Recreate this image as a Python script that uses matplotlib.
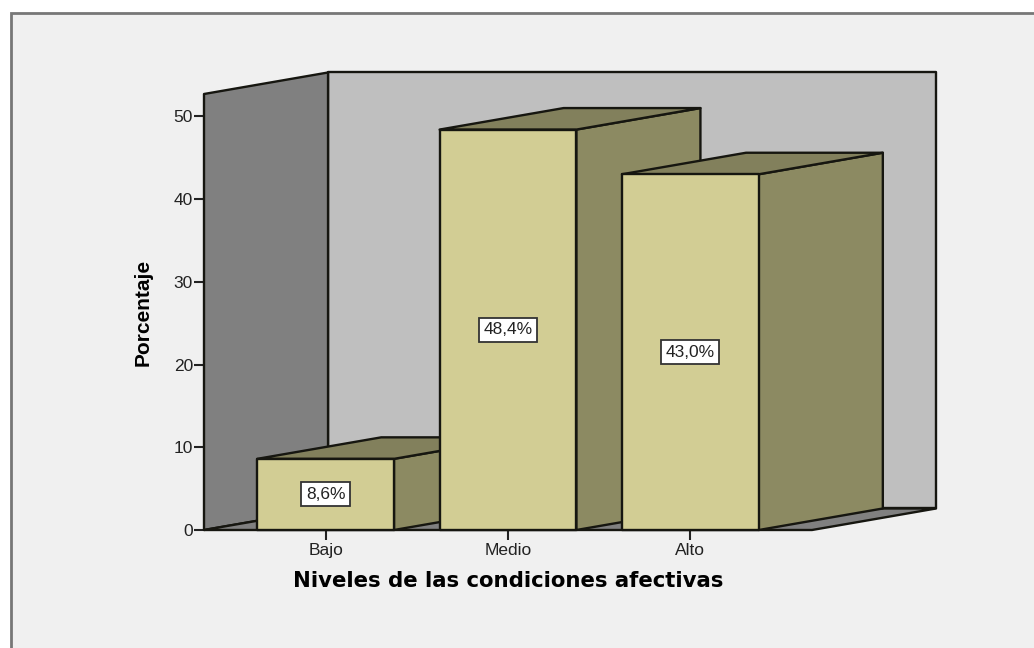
#!/usr/bin/env python3
"""3D-look bar chart of the levels of affective conditions."""

import matplotlib
matplotlib.use("Agg")
import matplotlib.pyplot as plt
from matplotlib.patches import Polygon, Rectangle

categories = ["Bajo", "Medio", "Alto"]
percentages = [8.6, 48.4, 43.0]
value_labels = ["8,6%", "48,4%", "43,0%"]
y_ticks = [0, 10, 20, 30, 40, 50]

X_MIN, X_MAX = -2 / 3, 8 / 3
Y_MAX = 52.7
BAR_WIDTH = 0.75
DEPTH_X = 0.68
DEPTH_Y = 2.6

EDGE = "#161610"
FRONT = "#d2cd94"
SIDE = "#8c8a62"
TOP = "#82805c"
BACK_WALL = "#bfbfbf"
SIDE_WALL = "#808080"


def add_poly(ax, points, color, zorder):
    ax.add_patch(Polygon(points, closed=True, facecolor=color, edgecolor=EDGE,
                         linewidth=1.7, joinstyle="round", clip_on=False, zorder=zorder))


def draw_bar(ax, center, value, label, zorder):
    left = center - BAR_WIDTH / 2
    right = center + BAR_WIDTH / 2
    add_poly(ax, [(right, 0), (right + DEPTH_X, DEPTH_Y),
                  (right + DEPTH_X, value + DEPTH_Y), (right, value)], SIDE, zorder)
    add_poly(ax, [(left, value), (left + DEPTH_X, value + DEPTH_Y),
                  (right + DEPTH_X, value + DEPTH_Y), (right, value)], TOP, zorder)
    add_poly(ax, [(left, 0), (left, value), (right, value), (right, 0)], FRONT, zorder)
    ax.text(center, value / 2, label, ha="center", va="center", fontsize=12.5,
            family="Liberation Sans", color="#222222", zorder=zorder + 0.5,
            bbox=dict(boxstyle="square,pad=0.26", facecolor="white",
                      edgecolor="#333333", linewidth=1.3))


def main() -> None:
    fig = plt.figure(figsize=(10.34, 6.48), dpi=100, facecolor="white")

    # grey panel behind the chart, its border only shows on the top and left
    fig.add_artist(Rectangle((11 / 1034, -0.01), 1.02, (648 - 13) / 648 + 0.01,
                             transform=fig.transFigure, facecolor="#f0f0f0",
                             edgecolor="#777777", linewidth=2, zorder=-1))

    ax = fig.add_axes([204 / 1034, (648 - 530) / 648, 608 / 1034, 436 / 648])
    ax.patch.set_visible(False)
    ax.set_xlim(X_MIN, X_MAX)
    ax.set_ylim(0, Y_MAX)
    for spine in ax.spines.values():
        spine.set_visible(False)

    # walls and floor
    add_poly(ax, [(X_MIN + DEPTH_X, DEPTH_Y), (X_MIN + DEPTH_X, Y_MAX + DEPTH_Y),
                  (X_MAX + DEPTH_X, Y_MAX + DEPTH_Y), (X_MAX + DEPTH_X, DEPTH_Y)], BACK_WALL, 1)
    add_poly(ax, [(X_MIN, 0), (X_MIN, Y_MAX), (X_MIN + DEPTH_X, Y_MAX + DEPTH_Y),
                  (X_MIN + DEPTH_X, DEPTH_Y)], SIDE_WALL, 2)
    add_poly(ax, [(X_MIN, 0), (X_MAX, 0), (X_MAX + DEPTH_X, DEPTH_Y),
                  (X_MIN + DEPTH_X, DEPTH_Y)], SIDE_WALL, 2)

    positions = list(range(len(categories)))
    for pos, value, label in zip(positions, percentages, value_labels):
        draw_bar(ax, pos, value, label, 3 + pos)

    ax.set_xticks(positions, categories)
    ax.set_yticks(y_ticks)
    ax.tick_params(axis="both", length=7, width=1.5, color="#222222", pad=1,
                   labelsize=12.5, labelcolor="#222222")
    ax.tick_params(axis="x", pad=2.5)
    for tick in ax.get_xticklabels() + ax.get_yticklabels():
        tick.set_family("Liberation Sans")

    ax.set_ylabel("Porcentaje", fontsize=15, fontweight="bold", labelpad=15,
                  family=["Liberation Sans Narrow", "Liberation Sans"], color="black")
    ax.set_xlabel("Niveles de las condiciones afectivas", fontsize=15.3, fontweight="bold",
                  family="DejaVu Sans", color="black", labelpad=9.5)

    fig.savefig("out.png", dpi=100)


if __name__ == "__main__":
    main()
